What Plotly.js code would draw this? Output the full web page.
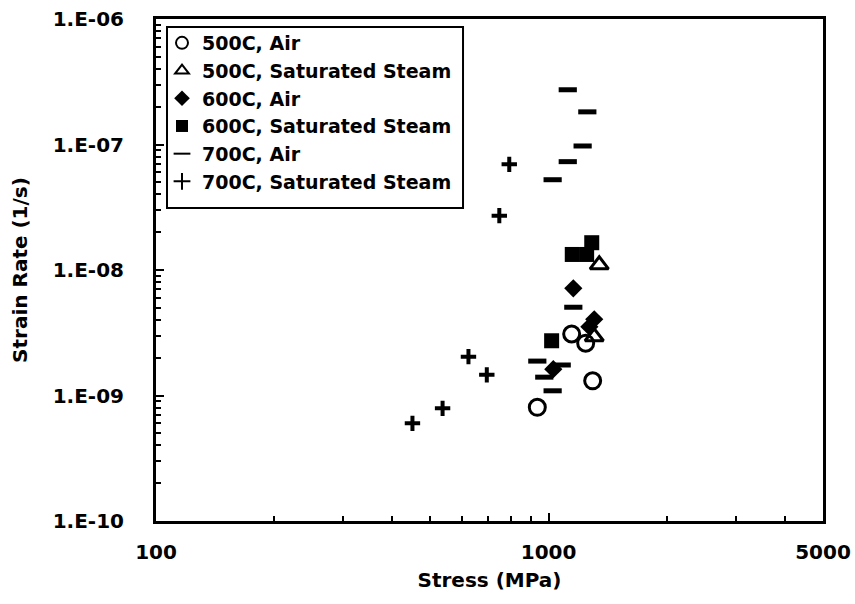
<!DOCTYPE html>
<html>
<head>
<meta charset="utf-8">
<script src="https://cdn.plot.ly/plotly-3.0.1.min.js"></script>
<style>
  html, body { margin: 0; padding: 0; background: #fff; }
  #chart { width: 855px; height: 604px; }
</style>
</head>
<body>
<div id="chart"></div>
<script>
// Creep data: stress (MPa) vs. steady strain rate (1/s)
const stress500Air = [936, 1145, 1243, 1295];
const rate500Air   = [8.05e-10, 3.09e-9, 2.61e-9, 1.31e-9];

const stress500Steam = [1346, 1307];
const rate500Steam   = [1.10e-8, 2.94e-9];

const stress600Air = [1156, 1307, 1270, 1028];
const rate600Air   = [7.15e-9, 4.05e-9, 3.53e-9, 1.62e-9];

const stress600Steam = [1288, 1149, 1250, 1018];
const rate600Steam   = [1.65e-8, 1.33e-8, 1.33e-8, 2.73e-9];

const stress700Air = [1119, 1255, 1221, 1119, 1024, 1156, 936, 1080, 975, 1024];
const rate700Air   = [2.73e-7, 1.82e-7, 9.73e-8, 7.3e-8, 5.24e-8, 5.05e-9, 1.88e-9, 1.75e-9, 1.40e-9, 1.09e-9];

const stress700Steam = [794, 749, 625, 696, 537, 450];
const rate700Steam   = [6.95e-8, 2.71e-8, 2.04e-9, 1.46e-9, 7.9e-10, 6.0e-10];

const seriesNames = ['500C, Air', '500C, Saturated Steam', '600C, Air',
                     '600C, Saturated Steam', '700C, Air', '700C, Saturated Steam'];

const xTickVals = [100, 1000, 5000];
const xTickText = ['100', '1000', '5000'];
const yTickVals = [1e-10, 1e-9, 1e-8, 1e-7, 1e-6];
const yTickText = ['1.E-10', '1.E-09', '1.E-08', '1.E-07', '1.E-06'];

const FONT = 'DejaVu Sans, Liberation Sans, Arial, sans-serif';
const black = '#000000';

function series(x, y, name, marker) {
  return { type: 'scatter', mode: 'markers', x: x, y: y, name: name,
           marker: marker, cliponaxis: false };
}

const traces = [
  series(stress500Air, rate500Air, seriesNames[0],
    { symbol: 'circle-open', size: 16, color: black, line: { color: black, width: 3 } }),
  series(stress500Steam, rate500Steam, seriesNames[1],
    { symbol: 'triangle-up-open', size: 16, color: black, line: { color: black, width: 3 } }),
  series(stress600Air, rate600Air, seriesNames[2],
    { symbol: 'diamond', size: 14, color: black, line: { width: 0 } }),
  series(stress600Steam, rate600Steam, seriesNames[3],
    { symbol: 'square', size: 15, color: black, line: { width: 0 } }),
  series(stress700Air, rate700Air, seriesNames[4],
    { symbol: 'line-ew', size: 13, color: black, line: { color: black, width: 5 } }),
  series(stress700Steam, rate700Steam, seriesNames[5],
    { symbol: 'cross-thin', size: 11, color: black, line: { color: black, width: 4 } })
];

const layout = {
  width: 855, height: 604,
  margin: { l: 156, r: 32, t: 19, b: 83, pad: 0 },
  paper_bgcolor: '#ffffff', plot_bgcolor: '#ffffff',
  font: { family: FONT, size: 20, color: black, weight: 'bold' },
  showlegend: true,
  // legend frame drawn as a shape so the entries can sit slightly higher inside it
  shapes: [{
    type: 'rect', xref: 'paper', yref: 'paper', layer: 'above',
    x0: 0.0165, x1: 0.4603, y0: 0.6235, y1: 0.9841,
    line: { color: black, width: 2 }, fillcolor: '#ffffff'
  }],
  legend: {
    x: 0.009, y: 0.990, xanchor: 'left', yanchor: 'top',
    bgcolor: 'rgba(0,0,0,0)', borderwidth: 0,
    font: { family: FONT, size: 19, color: black, weight: 'bold' },
    itemsizing: 'constant', itemwidth: 30, tracegroupgap: 0
  },
  xaxis: {
    type: 'log', range: [2, Math.log10(5000)],
    tickvals: xTickVals, ticktext: xTickText,
    ticks: 'inside', ticklen: 8, tickwidth: 2, tickcolor: black,
    ticklabelstandoff: 11,
    minor: { dtick: 'D1', ticks: 'inside', ticklen: 5, tickwidth: 2, tickcolor: black, showgrid: false },
    showgrid: false, zeroline: false,
    showline: true, mirror: true, linecolor: black, linewidth: 3,
    tickfont: { family: FONT, size: 20, color: black, weight: 'bold' },
    title: { text: 'Stress (MPa)', standoff: 10,
             font: { family: FONT, size: 20, color: black, weight: 'bold' } },
    automargin: false
  },
  yaxis: {
    type: 'log', range: [-10, -6],
    tickvals: yTickVals, ticktext: yTickText,
    ticks: 'inside', ticklen: 8, tickwidth: 2, tickcolor: black,
    ticklabelstandoff: 25,
    minor: { dtick: 'D1', ticks: 'inside', ticklen: 5, tickwidth: 2, tickcolor: black, showgrid: false },
    showgrid: false, zeroline: false,
    showline: true, mirror: true, linecolor: black, linewidth: 3,
    tickfont: { family: FONT, size: 20, color: black, weight: 'bold' },
    title: { text: 'Strain Rate (1/s)', standoff: 20,
             font: { family: FONT, size: 20, color: black, weight: 'bold' } },
    automargin: false
  }
};

Plotly.newPlot('chart', traces, layout, { displayModeBar: false, staticPlot: true });
</script>
</body>
</html>
